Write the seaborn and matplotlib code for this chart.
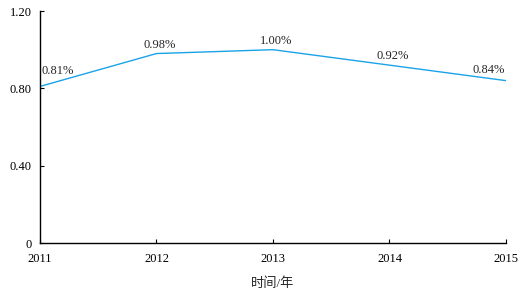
import pandas as pd
import seaborn as sns
import matplotlib.pyplot as plt

years = [2011, 2012, 2013, 2014, 2015]
rates = [0.81, 0.98, 1.00, 0.92, 0.84]
rate_labels = ["0.81%", "0.98%", "1.00%", "0.92%", "0.84%"]
y_ticks = [0, 0.40, 0.80, 1.20]
y_tick_labels = ["0", "0.40", "0.80", "1.20"]

sns.set_style("ticks")
plt.rcParams['font.family'] = ['Liberation Serif', 'Noto Sans CJK SC']
plt.rcParams['font.size'] = 9

df = pd.DataFrame({'year': years, 'rate': rates})

fig = plt.figure(figsize=(5.22, 2.95), dpi=100)
ax = fig.add_axes([0.0766, 0.176, 0.8927, 0.7867])

sns.lineplot(data=df, x='year', y='rate', color='#1AA3E8', linewidth=1.0, ax=ax)

for i, (x, y, t) in enumerate(zip(years, rates, rate_labels)):
    if i == 0:
        ax.annotate(t, (x, y), xytext=(1, 7), textcoords='offset points',
                    ha='left', va='bottom', fontsize=9)
    elif i == len(years) - 1:
        ax.annotate(t, (x, y), xytext=(-1, 3), textcoords='offset points',
                    ha='right', va='bottom', fontsize=9)
    else:
        ax.annotate(t, (x, y), xytext=(2, 2), textcoords='offset points',
                    ha='center', va='bottom', fontsize=9)

ax.set_xlim(2011, 2015)
ax.set_ylim(0, 1.20)
ax.set_xticks(years)
ax.set_xticklabels([str(y) for y in years])
ax.set_yticks(y_ticks)
ax.set_yticklabels(y_tick_labels)
ax.tick_params(direction='in', length=3, width=0.8, colors='black', labelsize=9)
ax.tick_params(axis='x', pad=7)
ax.tick_params(axis='y', pad=6)
ax.set_xlabel("时间/年", fontsize=9.5, labelpad=9)
ax.set_ylabel("")

sns.despine(ax=ax)
for s in ['left', 'bottom']:
    ax.spines[s].set_color('black')
    ax.spines[s].set_linewidth(1.0)

plt.savefig("out.png", dpi=100)
